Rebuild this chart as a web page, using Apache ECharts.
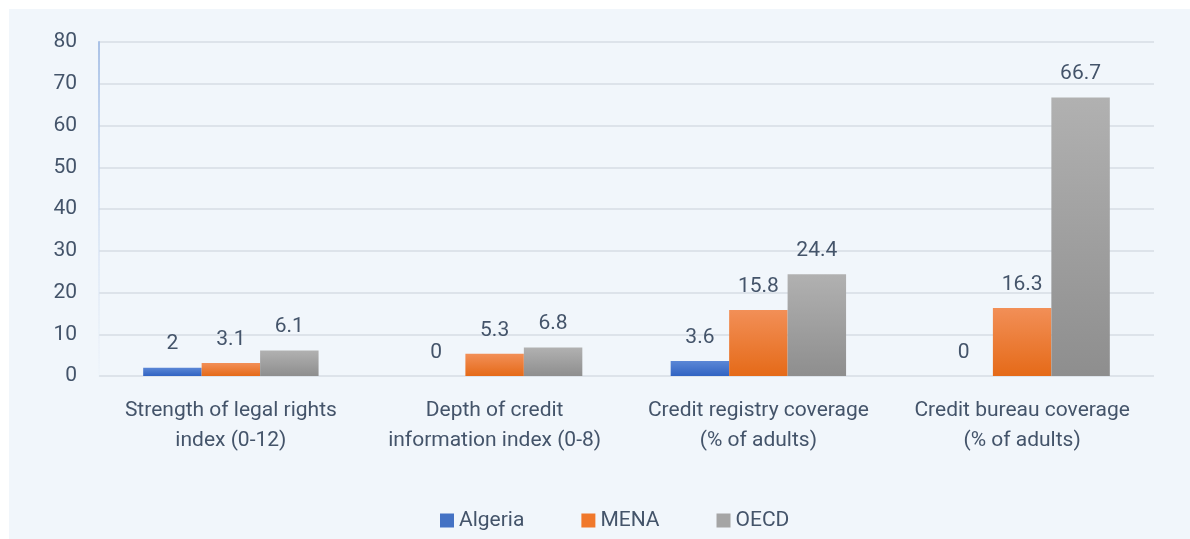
<!DOCTYPE html>
<html>
<head>
<meta charset="utf-8">
<script src="https://cdn.jsdelivr.net/npm/echarts@6/dist/echarts.min.js"></script>
<style>
	html, body { margin: 0; padding: 0; background: #ffffff; }
	#chart { position: absolute; left: 9px; top: 9px; width: 1181px; height: 530px; background: #f1f6fb; }
</style>
</head>
<body>
<div id="chart"></div>
<script>
	var categories = [
		'Strength of legal rights\nindex (0-12)',
		'Depth of credit\ninformation index (0-8)',
		'Credit registry coverage\n(% of adults)',
		'Credit bureau coverage\n(% of adults)'
	];
	var algeria = [2, 0, 3.6, 0];
	var mena = [3.1, 5.3, 15.8, 16.3];
	var oecd = [6.1, 6.8, 24.4, 66.7];
	var yTicks = [0, 10, 20, 30, 40, 50, 60, 70, 80];

	var font = "Roboto, sans-serif";
	var txt = '#44546a';

	function grad(top, bottom) {
		return new echarts.graphic.LinearGradient(0, 0, 0, 1, [
			{ offset: 0, color: top },
			{ offset: 1, color: bottom }
		]);
	}

	function bar(name, data, top, bottom) {
		return {
			name: name,
			type: 'bar',
			data: data,
			barGap: '0%',
			barCategoryGap: '33.5%',
			itemStyle: { color: grad(top, bottom) },
			label: {
				show: true,
				position: 'top',
				distance: 13,
				color: txt,
				fontSize: 21,
				fontFamily: font
			}
		};
	}

	var chart = echarts.init(document.getElementById('chart'));
	chart.setOption({
		animation: false,
		textStyle: { fontFamily: font },
		grid: { left: 90, right: 36, top: 33, bottom: 163, containLabel: false },
		legend: {
			bottom: 3,
			left: 426,
			itemWidth: 14,
			itemHeight: 14,
			itemGap: 57,
			icon: 'rect',
			textStyle: { color: txt, fontSize: 21, fontFamily: font },
			data: [
				{ name: 'Algeria', itemStyle: { color: '#4472c4' } },
				{ name: 'MENA', itemStyle: { color: '#f0782b' } },
				{ name: 'OECD', itemStyle: { color: '#a5a5a5' } }
			]
		},
		xAxis: {
			type: 'category',
			data: categories,
			axisTick: { show: false },
			axisLine: { show: false },
			axisLabel: {
				color: txt,
				fontSize: 21,
				fontFamily: font,
				lineHeight: 30,
				margin: 20,
				interval: 0
			}
		},
		yAxis: {
			type: 'value',
			min: yTicks[0],
			max: yTicks[yTicks.length - 1],
			interval: 10,
			axisLine: {
				show: true,
				lineStyle: {
					width: 2,
					color: grad('#a9c1e6', 'rgba(230,238,248,0.2)')
				}
			},
			axisTick: { show: false },
			axisLabel: { color: txt, fontSize: 21, fontFamily: font, margin: 22 },
			splitLine: { lineStyle: { color: '#dde3ea', width: 2 } }
		},
		series: [
			bar('Algeria', algeria, '#5b87d6', '#3163c2'),
			bar('MENA', mena, '#f28f57', '#e56a18'),
			bar('OECD', oecd, '#b1b1b1', '#8e8e8e')
		]
	});
</script>
</body>
</html>
